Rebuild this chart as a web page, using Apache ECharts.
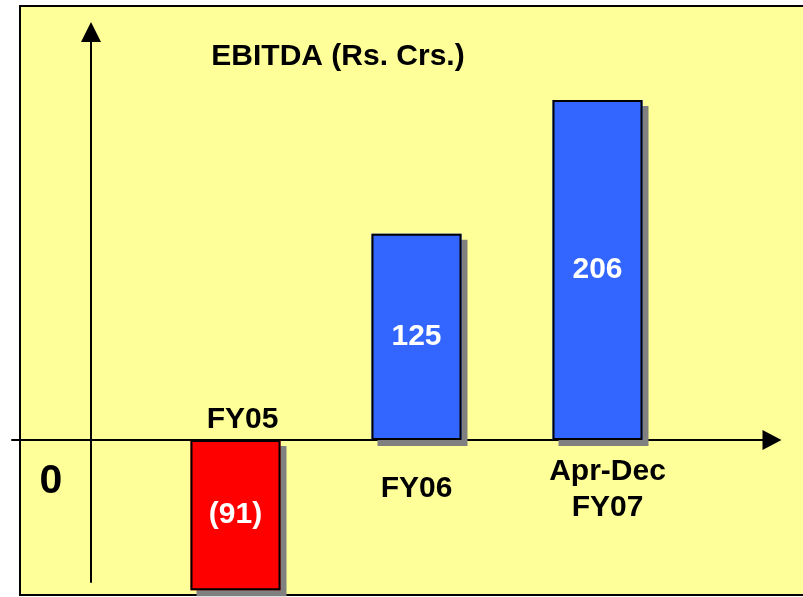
<!DOCTYPE html>
<html>
<head>
<meta charset="utf-8">
<title>EBITDA</title>
<script src="https://cdn.jsdelivr.net/npm/echarts@6/dist/echarts.min.js"></script>
<style>
  html, body { margin: 0; padding: 0; background: #fff; }
  #chart { width: 803px; height: 597px; }
</style>
</head>
<body>
<div id="chart"></div>
<script>
// data
var categories = ["FY05", "FY06", "Apr-Dec\nFY07"];
var ebitda = [-91, 125, 206];
var barColors = ["#FF0000", "#3366FF", "#3366FF"];

var font = "'Liberation Sans', Arial, sans-serif";

var dom = echarts.init(document.getElementById("chart"));

// category names sit on the zero line, above it for the negative bar
var nameLabels = categories.map(function(c, i) {
  var neg = ebitda[i] < 0;
  var lines = c.split("\n").length;
  return {
    value: 0,
    label: {
      position: neg ? "top" : "bottom",
      distance: neg ? 2 : (lines > 1 ? 14 : 31),
      offset: [i === 0 ? 7 : (lines > 1 ? 10 : 0), 0]
    }
  };
});

var option = {
  animation: false,
  backgroundColor: "#fff",
  title: {
    text: "EBITDA (Rs. Crs.)",
    left: 333,
    top: 37,
    textAlign: "center",
    textStyle: {
      fontFamily: font,
      fontWeight: "bold",
      fontSize: 30,
      color: "#000"
    }
  },
  graphic: [
    {
      type: "rect",
      z: -10,
      shape: { x: 20, y: 6, width: 800, height: 589 },
      style: { fill: "#FFFF99", stroke: "#000", lineWidth: 2 }
    },
    {
      type: "text",
      x: 51,
      y: 482,
      style: {
        text: "0",
        fontFamily: font,
        fontWeight: "bold",
        fontSize: 41,
        fill: "#000",
        align: "center",
        verticalAlign: "middle"
      }
    }
  ],
  grid: [
    // bars
    { left: 145, right: 115, top: 44, bottom: 0.25 },
    // the two arrowed axes
    { left: 12, right: 31, top: 32, bottom: 15 }
  ],
  xAxis: [
    {
      gridIndex: 0,
      type: "category",
      data: categories,
      show: false
    },
    {
      gridIndex: 1,
      type: "value",
      min: -79,
      max: 681,
      axisLine: {
        show: true,
        onZero: true,
        symbol: ["none", "triangle"],
        symbolSize: [20, 19],
        lineStyle: { color: "#000", width: 2 }
      },
      axisTick: { show: false },
      axisLabel: { show: false },
      splitLine: { show: false }
    }
  ],
  yAxis: [
    {
      gridIndex: 0,
      type: "value",
      min: -95,
      max: 240,
      show: false
    },
    {
      gridIndex: 1,
      type: "value",
      min: -142,
      max: 408,
      axisLine: {
        show: true,
        onZero: true,
        symbol: ["none", "triangle"],
        symbolSize: [20, 20],
        lineStyle: { color: "#000", width: 2 }
      },
      axisTick: { show: false },
      axisLabel: { show: false },
      splitLine: { show: false }
    }
  ],
  series: [
    // filled bars with their drop shadow
    {
      type: "bar",
      xAxisIndex: 0,
      yAxisIndex: 0,
      barWidth: 90,
      z: 5,
      data: ebitda.map(function(v, i) {
        return { value: v, itemStyle: { color: barColors[i] } };
      }),
      itemStyle: {
        borderWidth: 0,
        shadowColor: "#808080",
        shadowBlur: 0,
        shadowOffsetX: 6,
        shadowOffsetY: 6
      }
    },
    // black outline + value label on top, no shadow
    {
      type: "bar",
      xAxisIndex: 0,
      yAxisIndex: 0,
      barWidth: 90,
      barGap: "-100%",
      z: 6,
      data: ebitda,
      itemStyle: {
        color: "rgba(0,0,0,0)",
        borderColor: "#000",
        borderWidth: 2
      },
      label: {
        show: true,
        position: "inside",
        fontFamily: font,
        fontWeight: "bold",
        fontSize: 30,
        color: "#fff",
        formatter: function(p) {
          return p.value < 0 ? "(" + Math.abs(p.value) + ")" : String(p.value);
        }
      }
    },
    {
      type: "scatter",
      xAxisIndex: 0,
      yAxisIndex: 0,
      symbolSize: 0,
      z: 7,
      silent: true,
      data: nameLabels,
      itemStyle: { opacity: 1 },
      label: {
        show: true,
        fontFamily: font,
        fontWeight: "bold",
        fontSize: 30,
        lineHeight: 36,
        color: "#000",
        formatter: function(p) {
          return categories[p.dataIndex];
        }
      }
    }
  ]
};

dom.setOption(option);
window.addEventListener("resize", function() { dom.resize(); });
</script>
</body>
</html>
